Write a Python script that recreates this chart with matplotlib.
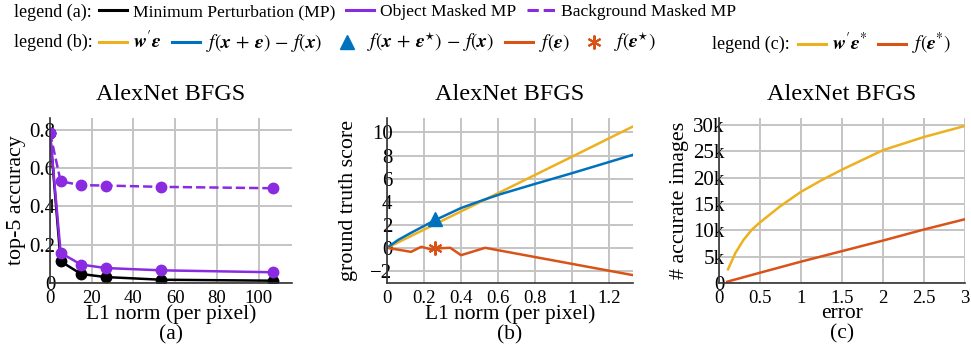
import numpy as np
import matplotlib
matplotlib.use("Agg")
import matplotlib.pyplot as plt
from matplotlib.lines import Line2D

plt.rcParams['font.family'] = ['Liberation Serif', 'DejaVu Serif']
plt.rcParams['mathtext.fontset'] = 'stix'

# colours (matlab style)
c_black = 'black'
c_purple = '#8a2be2'
c_yellow = '#edb120'
c_blue = '#0072bd'
c_red = '#d95319'

# (a) top-5 accuracy vs L1 norm
a_x = [0, 5.1, 14.9, 26.7, 53.4, 106.9]
a_mp = [0.783, 0.113, 0.047, 0.031, 0.017, 0.012]
a_obj = [0.783, 0.157, 0.096, 0.078, 0.066, 0.056]
a_bg = [0.783, 0.530, 0.510, 0.508, 0.501, 0.494]

# (b) ground truth score vs L1 norm
b_x_lin = [0, 0.26, 0.611, 1.0, 1.329]
b_wle = [0, 2.05, 4.82, 7.9, 10.52]
b_x_f = [0, 0.06, 0.13, 0.26, 0.4, 0.53, 0.611, 0.8, 1.0, 1.329]
b_fxe = [0, 0.68, 1.3, 2.4, 3.45, 4.2, 4.64, 5.54, 6.47, 8.06]
b_x_fe = [0, 0.13, 0.185, 0.234, 0.26, 0.342, 0.40, 0.53, 1.329]
b_fe = [0, -0.35, 0.09, -0.12, -0.06, 0.0, -0.64, 0.0, -2.37]
b_star_x, b_star_fxe, b_star_fe = 0.261, 2.46, -0.02

# (c) # accurate images vs error
c_x = [0.11, 0.2, 0.3, 0.4, 0.5, 0.75, 1.0, 1.25, 1.5, 2.0, 2.5, 3.0]
c_wle = [2600, 5700, 8200, 10100, 11500, 14600, 17300, 19500, 21500, 25200, 27700, 29800]
c_fe_x = [0.1, 0.5, 1.0, 1.5, 2.0, 2.5, 3.0]
c_fe = [250, 1950, 4050, 6050, 8050, 10150, 12100]

fig = plt.figure(figsize=(9.71, 3.5), dpi=100)

W, H = 971.0, 350.0
def ax_rect(left, right, top=118, bottom=283):
    return [left / W, 1 - bottom / H, (right - left) / W, (bottom - top) / H]

axA = fig.add_axes(ax_rect(50, 292))
axB = fig.add_axes(ax_rect(387, 633))
axC = fig.add_axes(ax_rect(719, 965))

for ax in (axA, axB, axC):
    ax.grid(True, color='#c4c4c4', lw=1.4)
    ax.set_axisbelow(True)
    for s in ('top', 'right'):
        ax.spines[s].set_visible(False)
    for s in ('left', 'bottom'):
        ax.spines[s].set_color('#333333')
        ax.spines[s].set_linewidth(1.2)
    ax.tick_params(length=0)
    ax.tick_params(axis='x', pad=5, labelsize=13.5)
    ax.tick_params(axis='y', pad=-4, labelsize=15)
    ax.set_title('AlexNet BFGS', fontsize=17.5, pad=13)

# (a)
axA.plot(a_x, a_mp, '-o', color=c_black, lw=1.8, ms=7.5)
axA.plot(a_x, a_bg, '--o', color=c_purple, lw=1.8, ms=7.5)
axA.plot(a_x, a_obj, '-o', color=c_purple, lw=1.8, ms=7.5)
axA.set_xlim(0, 116)
axA.set_ylim(0, 0.86)
axA.set_xticks([0, 20, 40, 60, 80, 100])
axA.set_yticks([0, 0.2, 0.4, 0.6, 0.8])
axA.set_yticklabels(['0', '0.2', '0.4', '0.6', '0.8'])
axA.set_ylabel('top-5 accuracy', fontsize=15.8)
axA.yaxis.set_label_coords(-0.099, 0.5)
axA.set_xlabel('L1 norm (per pixel)\n(a)', fontsize=15.5, labelpad=-2, linespacing=1.1)

# (b)
axB.plot(b_x_lin, b_wle, color=c_yellow, lw=1.8)
axB.plot(b_x_f, b_fxe, color=c_blue, lw=1.8)
axB.plot(b_x_fe, b_fe, color=c_red, lw=1.8)
axB.plot([b_star_x], [b_star_fxe], marker='^', color=c_blue, ms=10, ls='none')
axB.plot([b_star_x], [b_star_fe], marker=(6, 2, 0), color=c_red, mec=c_red,
         mew=1.5, ms=10, ls='none')
axB.set_xlim(0, 1.329)
axB.set_ylim(-3.05, 11.25)
axB.set_xticks([0, 0.2, 0.4, 0.6, 0.8, 1.0, 1.2])
axB.set_xticklabels(['0', '0.2', '0.4', '0.6', '0.8', '1', '1.2'])
axB.set_yticks([-2, 0, 2, 4, 6, 8, 10])
axB.set_yticklabels(['\u22122', '0', '2', '4', '6', '8', '10'])
axB.set_ylabel('ground truth score', fontsize=15.8)
axB.yaxis.set_label_coords(-0.118, 0.5)
axB.set_xlabel('L1 norm (per pixel)\n(b)', fontsize=15.5, labelpad=-2, linespacing=1.1)

# (c)
axC.plot(c_x, c_wle, color=c_yellow, lw=1.8)
axC.plot(c_fe_x, c_fe, color=c_red, lw=1.8)
axC.set_xlim(0, 3)
axC.set_ylim(0, 31300)
axC.set_xticks([0, 0.5, 1, 1.5, 2, 2.5, 3])
axC.set_xticklabels(['0', '0.5', '1', '1.5', '2', '2.5', '3'])
axC.set_yticks([0, 5000, 10000, 15000, 20000, 25000, 30000])
axC.set_yticklabels(['0', '5k', '10k', '15k', '20k', '25k', '30k'])
axC.set_ylabel('# accurate images', fontsize=15.8)
axC.yaxis.set_label_coords(-0.122, 0.5)
axC.set_xlabel('error\n(c)', fontsize=15.5, labelpad=-2, linespacing=1.1)

# legends on top
leg_kw = dict(frameon=False, fontsize=12.6, handlelength=1.6, handletextpad=0.35,
              columnspacing=0.6, borderpad=0, borderaxespad=0, loc='center left')
math_size = 14

fig.text(14 / W, 1 - 12 / H, 'legend (a):', fontsize=13, va='center')
hA = [Line2D([], [], color=c_black, lw=2.2),
      Line2D([], [], color=c_purple, lw=2.2),
      Line2D([], [], color=c_purple, lw=2.2, ls='--')]
fig.legend(hA, ['Minimum Perturbation (MP)', 'Object Masked MP', 'Background Masked MP'],
           ncol=3, bbox_to_anchor=(99 / W, 1 - 12 / H), **leg_kw)

fig.text(14 / W, 1 - 42 / H, 'legend (b):', fontsize=13, va='center')
hB = [Line2D([], [], color=c_yellow, lw=2.2),
      Line2D([], [], color=c_blue, lw=2.2),
      Line2D([], [], color=c_blue, marker='^', ms=10, ls='none'),
      Line2D([], [], color=c_red, lw=2.2),
      Line2D([], [], color=c_red, mec=c_red, marker=(6, 2, 0), mew=1.5, ms=10, ls='none')]
legB = fig.legend(hB, [r"$\mathbfit{w}'\mathbfit{\epsilon}$",
                       r'$f(\mathbfit{x}\,+\,\mathbfit{\epsilon})\,-\,f(\mathbfit{x})$',
                       r'$f(\mathbfit{x}\,+\,\mathbfit{\epsilon}^{\star})\,-\,f(\mathbfit{x})$',
                       r'$f(\mathbfit{\epsilon})$',
                       r'$f(\mathbfit{\epsilon}^{\star})$'],
                  ncol=5, bbox_to_anchor=(99 / W, 1 - 42 / H), **leg_kw)
for t in legB.get_texts():
    t.set_fontsize(math_size)

fig.text(712 / W, 1 - 44 / H, 'legend (c):', fontsize=13, va='center')
hC = [Line2D([], [], color=c_yellow, lw=2.2),
      Line2D([], [], color=c_red, lw=2.2)]
legC = fig.legend(hC, [r"$\mathbfit{w}'\mathbfit{\epsilon}^{*}$",
                       r'$f(\mathbfit{\epsilon}^{*})$'],
                  ncol=2, bbox_to_anchor=(798 / W, 1 - 44 / H), **leg_kw)
for t in legC.get_texts():
    t.set_fontsize(math_size)

fig.savefig('out.png', dpi=100)
